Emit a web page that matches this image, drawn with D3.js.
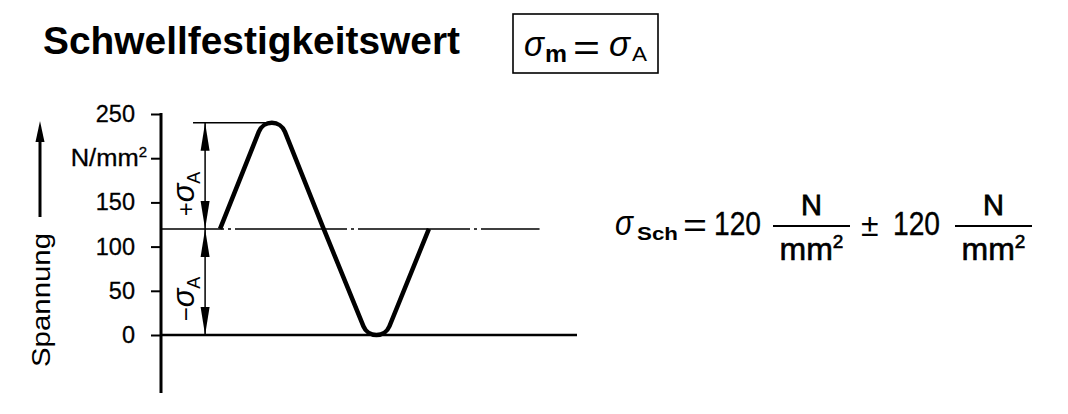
<!DOCTYPE html>
<html><head><meta charset="utf-8">
<script src="https://cdn.jsdelivr.net/npm/d3@7"></script>
<style>
html,body{margin:0;padding:0;background:#fff;}
svg text{font-family:"Liberation Sans",Arial,sans-serif;fill:#000;}
</style></head>
<body>
<svg id="c" width="1068" height="414"></svg>
<script>
// ---- data ----
const yTicks = [0, 50, 100, 150, 200, 250];
const yTickLabels = ["0", "50", "100", "150", "N/mm²", "250"];
const meanStress = 120;      // sigma_m
const amplitude = 120;       // sigma_A
const waveTime = [0.284, 0.533, 0.782, 1.036, 1.288];
const waveValue = [120, 240, 120, 0, 120];
const title = "Schwellfestigkeitswert";
const yLabel = "Spannung";

const svg = d3.select("#c");
const x = d3.scaleLinear().domain([0, 2]).range([161, 577]);
const y = d3.scaleLinear().domain([0, 250]).range([335, 114]);

// title
svg.append("text").attr("x", 43).attr("y", 54)
  .attr("font-size", 38.5).attr("font-weight", "bold")
  .attr("textLength", 417).attr("lengthAdjust", "spacingAndGlyphs")
  .text(title);

// box sigma_m = sigma_A
svg.append("rect").attr("x", 513).attr("y", 14).attr("width", 145).attr("height", 59)
  .attr("fill", "none").attr("stroke", "#000").attr("stroke-width", 1.6);
function boxText(xp, yp, size, txt, opts) {
  const t = svg.append("text").attr("x", xp).attr("y", yp).attr("font-size", size).text(txt);
  Object.entries(opts || {}).forEach(([k, v]) => t.attr(k, v));
  return t;
}
boxText(524, 56, 36, "σ", { "font-style": "italic", "textLength": 20, "lengthAdjust": "spacingAndGlyphs" });
boxText(545, 62, 23, "m", { "font-weight": "bold", "textLength": 22, "lengthAdjust": "spacingAndGlyphs" });
boxText(573, 60, 36, "=", { "textLength": 27, "lengthAdjust": "spacingAndGlyphs" });
boxText(609, 56, 36, "σ", { "font-style": "italic", "textLength": 21, "lengthAdjust": "spacingAndGlyphs" });
boxText(632, 61, 20, "A", { "textLength": 15, "lengthAdjust": "spacingAndGlyphs" });

// y axis
const axis = d3.axisLeft(y).tickValues(yTicks)
  .tickFormat((d, i) => yTickLabels[i]).tickSize(10).tickPadding(16);
const ag = svg.append("g").attr("transform", `translate(${x(0)},0)`).call(axis);
ag.select(".domain").remove();
ag.selectAll(".tick line").attr("stroke", "#000").attr("stroke-width", 2);
ag.selectAll(".tick text").attr("font-size", 23.5).attr("fill", "#000")
  .attr("font-family", "Liberation Sans, Arial, sans-serif")
  .attr("stroke", "#000").attr("stroke-width", 0.3);
ag.selectAll(".tick text").filter(d => d === 200).each(function () {
  const t = d3.select(this); t.text("");
  t.attr("font-size", 23).attr("dx", 12);
  t.append("tspan").attr("textLength", 68).attr("lengthAdjust", "spacingAndGlyphs").text("N/mm");
  t.append("tspan").attr("font-size", 15).attr("dy", -9).text("2");
});
// axis line
svg.append("line").attr("x1", x(0)).attr("x2", x(0)).attr("y1", y(250) - 1).attr("y2", 393)
  .attr("stroke", "#000").attr("stroke-width", 3);

// zero line
svg.append("line").attr("x1", x(0)).attr("x2", x(2)).attr("y1", y(0)).attr("y2", y(0))
  .attr("stroke", "#000").attr("stroke-width", 2.5);

// mean line dash-dot
svg.append("line").attr("x1", x(0)).attr("x2", x(1.82)).attr("y1", y(meanStress)).attr("y2", y(meanStress))
  .attr("stroke", "#000").attr("stroke-width", 1.5)
  .attr("stroke-dasharray", "112,4,3,4").attr("stroke-dashoffset", 49);

// top extension line
svg.append("line").attr("x1", x(0.154)).attr("x2", x(waveTime[1])).attr("y1", y(meanStress + amplitude)).attr("y2", y(meanStress + amplitude))
  .attr("stroke", "#000").attr("stroke-width", 1.5);

// wave with rounded peaks
const r = 14;
const pts = waveTime.map((t, i) => [x(t), y(waveValue[i])]);
const yMid = y(meanStress);
const p = d3.path();
p.moveTo(pts[0][0], pts[0][1]);
for (let i = 1; i < pts.length - 1; i++) {
  const w = (Math.abs(pts[i][0] - pts[i - 1][0]) + Math.abs(pts[i + 1][0] - pts[i][0])) / 2;
  const H = Math.abs(pts[i][1] - yMid);
  let h = H;
  for (let k = 0; k < 40; k++) h = H + r * (Math.sqrt(w * w + h * h) / w - 1);
  const dir = pts[i][1] < yMid ? -1 : 1;
  p.arcTo(pts[i][0], yMid + dir * h, pts[i + 1][0], pts[i + 1][1], r);
}
p.lineTo(pts[pts.length - 1][0], pts[pts.length - 1][1]);
svg.append("path").attr("d", p.toString()).attr("fill", "none")
  .attr("stroke", "#000").attr("stroke-width", 4.5).attr("stroke-linejoin", "round");

// dimension arrows
const dimX = x(0.212);
function arrowHead(xp, yp, dir) { // dir -1 up, +1 down (tip at yp)
  const L = 28, W = 4.5;
  svg.append("path").attr("d", `M${xp},${yp}L${xp - W},${yp - dir * L}L${xp + W},${yp - dir * L}Z`).attr("fill", "#000");
}
svg.append("line").attr("x1", dimX).attr("x2", dimX).attr("y1", y(meanStress + amplitude)).attr("y2", y(0))
  .attr("stroke", "#000").attr("stroke-width", 1.5);
arrowHead(dimX, y(meanStress + amplitude), -1);
arrowHead(dimX, y(meanStress), 1);
arrowHead(dimX, y(meanStress), -1);
arrowHead(dimX, y(0), 1);

function dimLabel(sign, cy) {
  const t = svg.append("text").attr("transform", `translate(194,${cy}) rotate(-90)`)
    .attr("text-anchor", "middle").attr("font-size", 31);
  t.append("tspan").attr("font-size", 24).text(sign);
  t.append("tspan").attr("font-style", "italic").text("σ");
  t.append("tspan").attr("font-size", 18).attr("dy", 6).text("A");
}
dimLabel("+", 194);
dimLabel("−", 299);

// y label and arrow
svg.append("text").attr("transform", "translate(50,300) rotate(-90)")
  .attr("text-anchor", "middle").attr("font-size", 26)
  .attr("textLength", 134).attr("lengthAdjust", "spacingAndGlyphs").text(yLabel);
svg.append("line").attr("x1", 40).attr("x2", 40).attr("y1", 217).attr("y2", 138)
  .attr("stroke", "#000").attr("stroke-width", 3);
svg.append("path").attr("d", "M40,121L35.5,142L44.5,142Z").attr("fill", "#000");

// formula
const fg = svg.append("g");
fg.append("text").attr("x", 615).attr("y", 235).attr("font-size", 36).attr("font-style", "italic")
  .attr("textLength", 18).attr("lengthAdjust", "spacingAndGlyphs").text("σ");
fg.append("text").attr("x", 637).attr("y", 240).attr("font-size", 19).attr("font-weight", "bold")
  .attr("textLength", 41).attr("lengthAdjust", "spacingAndGlyphs").text("Sch");
fg.append("text").attr("x", 683).attr("y", 237).attr("font-size", 34)
  .attr("textLength", 24).attr("lengthAdjust", "spacingAndGlyphs").text("=");
function num(xp, txt) {
  fg.append("text").attr("x", xp).attr("y", 235).attr("font-size", 34)
    .attr("stroke", "#000").attr("stroke-width", 0.4)
    .attr("textLength", 47).attr("lengthAdjust", "spacingAndGlyphs").text(txt);
}
function frac(x1, x2) {
  const cx = (x1 + x2) / 2;
  fg.append("line").attr("x1", x1).attr("x2", x2).attr("y1", 226).attr("y2", 226)
    .attr("stroke", "#000").attr("stroke-width", 2.2);
  fg.append("text").attr("x", cx).attr("y", 215).attr("text-anchor", "middle")
    .attr("font-size", 29).attr("stroke", "#000").attr("stroke-width", 0.8).text("N");
  const t = fg.append("text").attr("x", cx).attr("y", 260).attr("text-anchor", "middle")
    .attr("font-size", 32).attr("stroke", "#000").attr("stroke-width", 0.6);
  t.append("tspan").text("mm");
  t.append("tspan").attr("font-size", 19).attr("dy", -12).text("2");
}
num(714, "120");
frac(773, 850);
fg.append("text").attr("x", 861).attr("y", 236).attr("font-size", 32).text("±");
num(893, "120");
frac(955, 1032);
</script>
</body></html>
